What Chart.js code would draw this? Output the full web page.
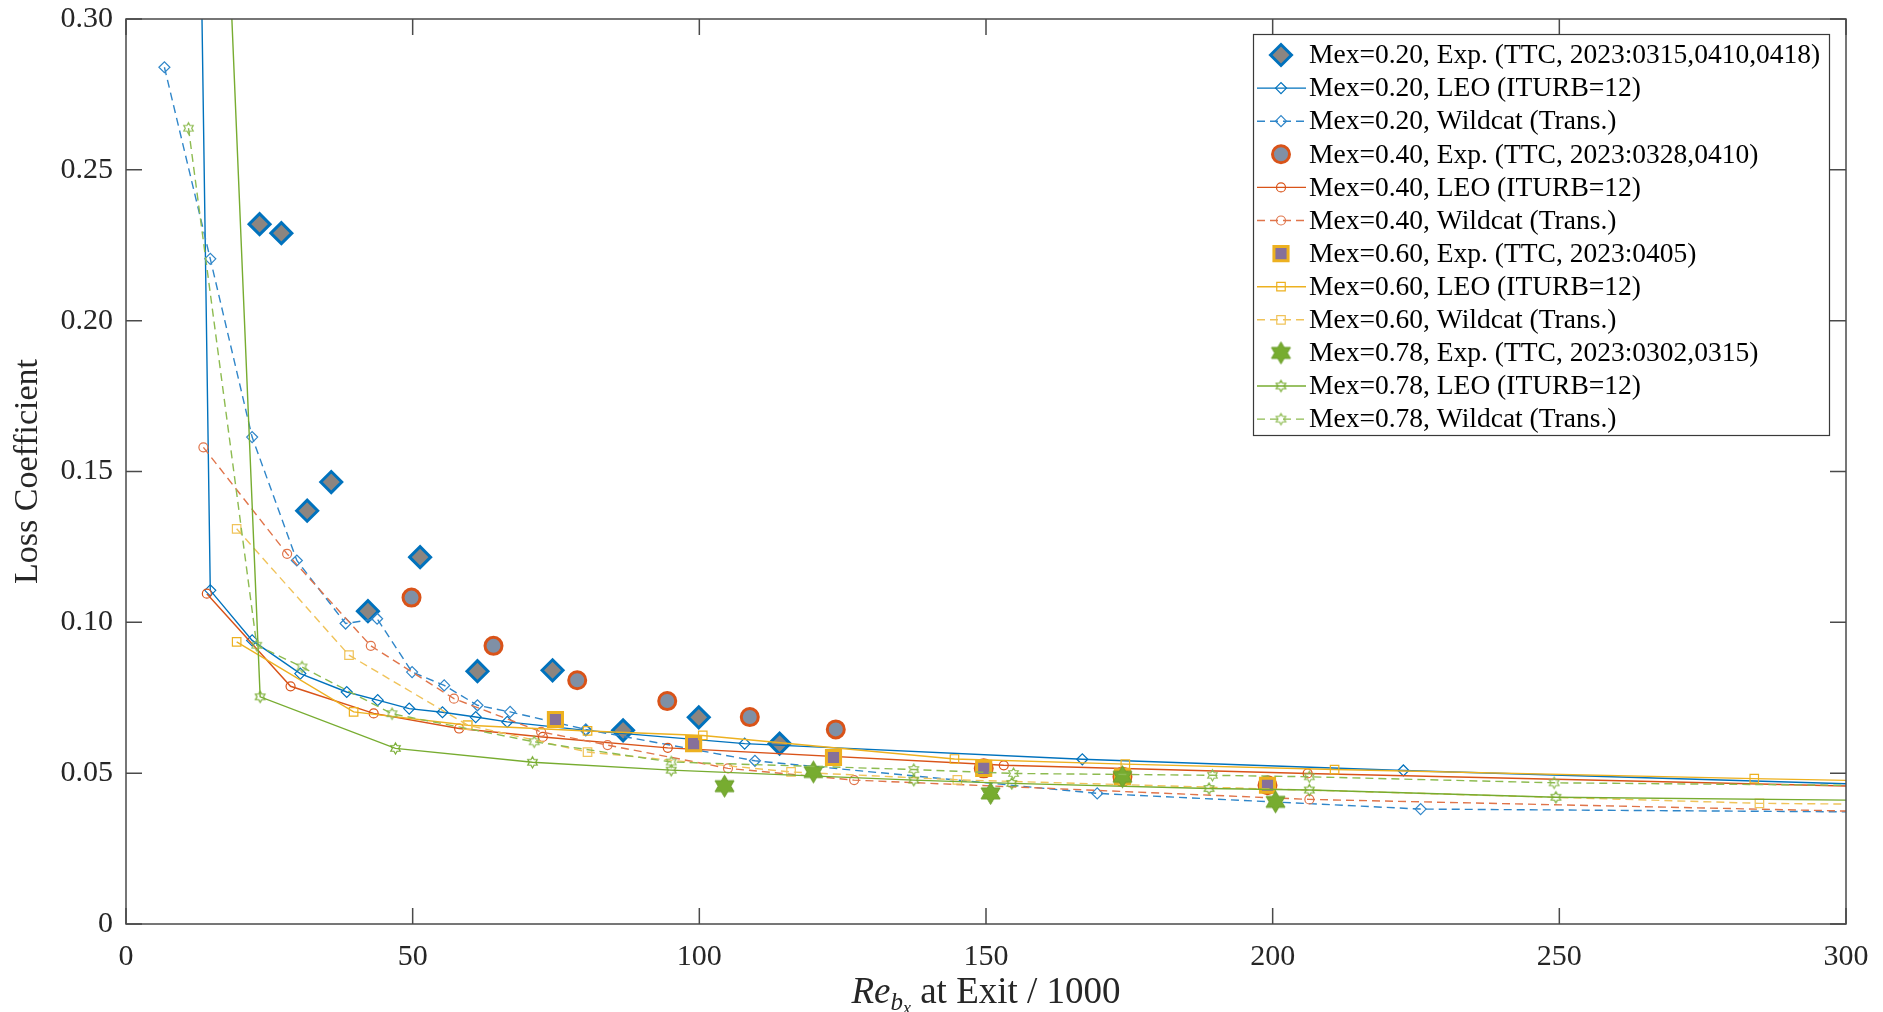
<!DOCTYPE html>
<html>
<head>
<meta charset="utf-8">
<script src="https://cdn.jsdelivr.net/npm/chart.js@4.4.0/dist/chart.umd.min.js"></script>
<style>
  html, body { margin: 0; padding: 0; background: #fff; }
  #wrap { width: 1883px; height: 1012px; }
</style>
</head>
<body>
<div id="wrap"><canvas id="lossChart" width="1883" height="1012"></canvas></div>
<script>
// axis ticks
const xTicks = [0, 50, 100, 150, 200, 250, 300];
const yTicks = [0, 0.05, 0.10, 0.15, 0.20, 0.25, 0.30];
const yTickLabels = ['0', '0.05', '0.10', '0.15', '0.20', '0.25', '0.30'];

// Mex = 0.20
const exp20X = [23.3, 27.1, 31.6, 35.8, 42.2, 51.3, 61.3, 74.4, 86.7, 99.9, 114.0];
const exp20Y = [0.232, 0.229, 0.137, 0.1465, 0.1037, 0.1216, 0.0838, 0.0841, 0.0642, 0.0685, 0.0598];
const leo20X = [6.7, 14.7, 22.0, 30.4, 38.5, 43.9, 49.4, 55.2, 61.0, 66.5, 80.2, 107.9, 166.8, 222.8, 330];
const leo20Y = [1.16, 0.1106, 0.094, 0.083, 0.0769, 0.0742, 0.0714, 0.0702, 0.0686, 0.067, 0.0642, 0.0598, 0.0546, 0.0509, 0.0448];
const wc20X = [6.7, 14.7, 22.0, 29.8, 38.3, 43.8, 49.9, 55.5, 61.3, 67.0, 80.2, 109.7, 169.4, 225.8, 330];
const wc20Y = [0.284, 0.2205, 0.1614, 0.1205, 0.0996, 0.1012, 0.0835, 0.0791, 0.0725, 0.0703, 0.0645, 0.0541, 0.0433, 0.0381, 0.0368];

// Mex = 0.40
const exp40X = [49.8, 64.1, 78.7, 94.4, 108.8, 123.8, 149.6, 173.8, 199.1];
const exp40Y = [0.1082, 0.0922, 0.0808, 0.0739, 0.0686, 0.0645, 0.0516, 0.0488, 0.046];
const leo40X = [14.1, 28.7, 43.2, 58.1, 72.7, 94.5, 153.1, 206.1, 330];
const leo40Y = [0.1095, 0.0788, 0.0698, 0.0648, 0.062, 0.0584, 0.0526, 0.0499, 0.0444];
const wc40X = [13.5, 28.1, 42.7, 57.2, 72.4, 84.0, 105.0, 127.0, 206.4, 330];
const wc40Y = [0.158, 0.1227, 0.0922, 0.0747, 0.0637, 0.0593, 0.0516, 0.0477, 0.0413, 0.0362];

// Mex = 0.60
const exp60X = [74.9, 99.0, 123.4, 149.6, 173.8, 199.1];
const exp60Y = [0.0678, 0.0598, 0.0552, 0.0516, 0.0488, 0.046];
const leo60X = [19.3, 39.7, 59.6, 80.5, 100.6, 144.5, 174.3, 210.8, 284.0, 330];
const leo60Y = [0.0935, 0.0703, 0.0659, 0.064, 0.0625, 0.0547, 0.053, 0.0512, 0.0482, 0.0465];
const wc60X = [19.3, 38.9, 59.6, 80.5, 116.0, 145.0, 284.9, 330];
const wc60Y = [0.131, 0.0891, 0.0659, 0.057, 0.0504, 0.0478, 0.040, 0.0393];

// Mex = 0.78
const exp78X = [104.4, 119.9, 150.8, 173.8, 200.5];
const exp78Y = [0.0457, 0.0504, 0.0433, 0.0488, 0.0405];
const leo78X = [11.0, 23.4, 47.0, 70.9, 95.1, 137.4, 154.5, 188.9, 206.4, 249.4, 330];
const leo78Y = [0.64, 0.0753, 0.0582, 0.0536, 0.051, 0.0477, 0.0466, 0.0449, 0.0444, 0.042, 0.0405];
const wc78X = [10.9, 22.8, 30.7, 46.4, 71.2, 95.1, 137.4, 154.8, 189.5, 206.4, 249.1, 330];
const wc78Y = [0.2638, 0.0924, 0.0852, 0.0697, 0.0604, 0.0537, 0.0512, 0.0499, 0.0493, 0.0488, 0.0468, 0.0455];

const FONT = '"Liberation Serif", "Times New Roman", serif';
const BLUE = '#0072BD', RED = '#D95319', YELLOW = '#EDB120', GREEN = '#77AC30';

function pts(xs, ys) {
    return xs.map((x, i) => ({ x: x, y: ys[i] }));
}

// six-pointed star marker drawn into a small canvas
function hexagram(r, fill, stroke, lw) {
    const s = Math.ceil(2 * r + lw + 2);
    const cv = document.createElement('canvas');
    cv.width = cv.height = s;
    const g = cv.getContext('2d');
    g.beginPath();
    for (let k = 0; k < 12; k++) {
        const rr = k % 2 ? r / Math.sqrt(3) : r;
        const ang = -Math.PI / 2 + k * Math.PI / 6;
        const px = s / 2 + rr * Math.cos(ang), py = s / 2 + rr * Math.sin(ang);
        if (k) g.lineTo(px, py); else g.moveTo(px, py);
    }
    g.closePath();
    if (fill) { g.fillStyle = fill; g.fill(); }
    g.strokeStyle = stroke;
    g.lineWidth = lw;
    g.stroke();
    return cv;
}

function expSet(label, xs, ys, style, edge, face, radius) {
    return {
        label: label, data: pts(xs, ys), showLine: false,
        pointStyle: style, pointRadius: radius, pointHoverRadius: radius,
        pointBorderWidth: 3, pointBorderColor: edge, pointBackgroundColor: face,
        borderColor: edge, backgroundColor: face
    };
}

function simSet(label, xs, ys, style, color, dashed, radius) {
    return {
        label: label, data: pts(xs, ys), showLine: true,
        borderColor: color, borderWidth: 1.4, borderDash: dashed ? [8, 5] : [],
        pointStyle: style, pointRadius: radius, pointHoverRadius: radius,
        pointBorderWidth: 1.2, pointBorderColor: color,
        pointBackgroundColor: 'rgba(255,255,255,0)', backgroundColor: 'rgba(255,255,255,0)',
        tension: 0
    };
}

const bigStar = hexagram(11, GREEN, '#6b9e2a', 1);
const starLeo = hexagram(5.5, null, GREEN, 1.2);
const starWc = hexagram(5.5, null, '#8dbb50', 1.2);

const datasets = [
    expSet('Mex=0.20, Exp. (TTC, 2023:0315,0410,0418)', exp20X, exp20Y, 'rectRot', BLUE, '#8c8580', 10.5),
    simSet('Mex=0.20, LEO (ITURB=12)', leo20X, leo20Y, 'rectRot', BLUE, false, 5.5),
    simSet('Mex=0.20, Wildcat (Trans.)', wc20X, wc20Y, 'rectRot', '#2f86c9', true, 5.5),
    expSet('Mex=0.40, Exp. (TTC, 2023:0328,0410)', exp40X, exp40Y, 'circle', RED, '#7f90a6', 8.5),
    simSet('Mex=0.40, LEO (ITURB=12)', leo40X, leo40Y, 'circle', RED, false, 4.5),
    simSet('Mex=0.40, Wildcat (Trans.)', wc40X, wc40Y, 'circle', '#e0744a', true, 4.5),
    expSet('Mex=0.60, Exp. (TTC, 2023:0405)', exp60X, exp60Y, 'rect', YELLOW, '#86709a', 10),
    simSet('Mex=0.60, LEO (ITURB=12)', leo60X, leo60Y, 'rect', YELLOW, false, 6),
    simSet('Mex=0.60, Wildcat (Trans.)', wc60X, wc60Y, 'rect', '#f0c35a', true, 6),
    {
        label: 'Mex=0.78, Exp. (TTC, 2023:0302,0315)', data: pts(exp78X, exp78Y), showLine: false,
        pointStyle: bigStar, pointRadius: 11, borderColor: GREEN, backgroundColor: GREEN
    },
    simSet('Mex=0.78, LEO (ITURB=12)', leo78X, leo78Y, starLeo, GREEN, false, 5.5),
    simSet('Mex=0.78, Wildcat (Trans.)', wc78X, wc78Y, starWc, '#8dbb50', true, 5.5)
];
// later series are drawn on top, like the original plot
datasets.forEach((ds, i) => { ds.order = datasets.length - i; });

const framePlugin = {
    id: 'frame',
    afterDatasetsDraw(chart) {
        const c = chart.ctx, a = chart.chartArea, xs = chart.scales.x, ys = chart.scales.y;
        const len = 16;
        c.save();
        c.strokeStyle = '#4a4a4a';
        c.lineWidth = 1.5;
        c.setLineDash([]);
        c.strokeRect(a.left, a.top, a.right - a.left, a.bottom - a.top);
        c.beginPath();
        xTicks.forEach(v => {
            const px = xs.getPixelForValue(v);
            c.moveTo(px, a.bottom); c.lineTo(px, a.bottom - len);
            c.moveTo(px, a.top); c.lineTo(px, a.top + len);
        });
        yTicks.forEach(v => {
            const py = ys.getPixelForValue(v);
            c.moveTo(a.left, py); c.lineTo(a.left + len, py);
            c.moveTo(a.right, py); c.lineTo(a.right - len, py);
        });
        c.stroke();
        c.restore();
    }
};

const legendPlugin = {
    id: 'boxLegend',
    afterDraw(chart) {
        const c = chart.ctx, a = chart.chartArea;
        const w = 576, h = 401;
        const left = a.right - 17 - w, top = a.top + 15;
        c.save();
        c.fillStyle = '#fff';
        c.fillRect(left, top, w, h);
        c.strokeStyle = '#3a3a3a';
        c.lineWidth = 1.2;
        c.setLineDash([]);
        c.strokeRect(left + 0.5, top + 0.5, w, h);
        c.font = '27.5px ' + FONT;
        c.textBaseline = 'middle';
        chart.data.datasets.forEach((ds, i) => {
            const y = top + 21 + i * 33.1;
            const mx = left + 28;
            if (ds.showLine) {
                c.strokeStyle = ds.borderColor;
                c.lineWidth = ds.borderWidth;
                c.setLineDash(ds.borderDash || []);
                c.beginPath();
                c.moveTo(left + 4, y);
                c.lineTo(left + 53, y);
                c.stroke();
            }
            c.setLineDash([]);
            c.fillStyle = ds.pointBackgroundColor || ds.backgroundColor;
            c.strokeStyle = ds.pointBorderColor || ds.borderColor;
            c.lineWidth = ds.pointBorderWidth || 1;
            Chart.helpers.drawPoint(c, {
                pointStyle: ds.pointStyle, radius: ds.pointRadius, rotation: 0,
                borderWidth: ds.pointBorderWidth || 0
            }, mx, y);
            c.fillStyle = '#000';
            c.textAlign = 'left';
            c.fillText(ds.label, left + 56, y + 1);
        });
        c.restore();
    }
};

// x axis title with italic Re and nested subscript
const xTitlePlugin = {
    id: 'xTitle',
    afterDraw(chart) {
        const c = chart.ctx, a = chart.chartArea;
        const base = 1003;
        const parts = [
            { t: 'Re', f: 'italic 37px ' + FONT, dy: 0 },
            { t: 'b', f: 'italic 25px ' + FONT, dy: 7 },
            { t: 'x', f: 'italic 18px ' + FONT, dy: 11 },
            { t: ' at Exit / 1000', f: '37px ' + FONT, dy: 0 }
        ];
        c.save();
        let total = 0;
        parts.forEach(p => { c.font = p.f; p.w = c.measureText(p.t).width; total += p.w; });
        let x = (a.left + a.right) / 2 - total / 2;
        c.fillStyle = '#262626';
        c.textBaseline = 'alphabetic';
        c.textAlign = 'left';
        parts.forEach(p => { c.font = p.f; c.fillText(p.t, x, base + p.dy); x += p.w; });
        c.restore();
    }
};

new Chart(document.getElementById('lossChart'), {
    type: 'scatter',
    data: { datasets: datasets },
    options: {
        responsive: false,
        animation: false,
        devicePixelRatio: 1,
        layout: { padding: { left: 0, right: 37, top: 19, bottom: 0 } },
        scales: {
            x: {
                type: 'linear', min: 0, max: 300,
                afterBuildTicks: s => { s.ticks = xTicks.map(v => ({ value: v })); },
                afterFit: s => { s.height = 88; s.paddingLeft = 0; s.paddingRight = 0; },
                grid: { display: false, drawTicks: false },
                border: { display: false },
                ticks: {
                    font: { family: FONT, size: 30 }, color: '#262626',
                    padding: 15, maxRotation: 0
                }
            },
            y: {
                type: 'linear', min: 0, max: 0.3,
                afterBuildTicks: s => { s.ticks = yTicks.map(v => ({ value: v })); },
                afterFit: s => { s.width = 126; s.paddingTop = 0; s.paddingBottom = 0; },
                grid: { display: false, drawTicks: false },
                border: { display: false },
                ticks: {
                    font: { family: FONT, size: 30 }, color: '#262626', padding: 13,
                    callback: (v, i) => yTickLabels[i]
                },
                title: {
                    display: true, text: 'Loss Coefficient', color: '#262626',
                    font: { family: FONT, size: 34 }, padding: { top: 8, bottom: 0 }
                }
            }
        },
        plugins: {
            legend: { display: false },
            tooltip: { enabled: false }
        }
    },
    plugins: [framePlugin, legendPlugin, xTitlePlugin]
});
</script>
</body>
</html>
